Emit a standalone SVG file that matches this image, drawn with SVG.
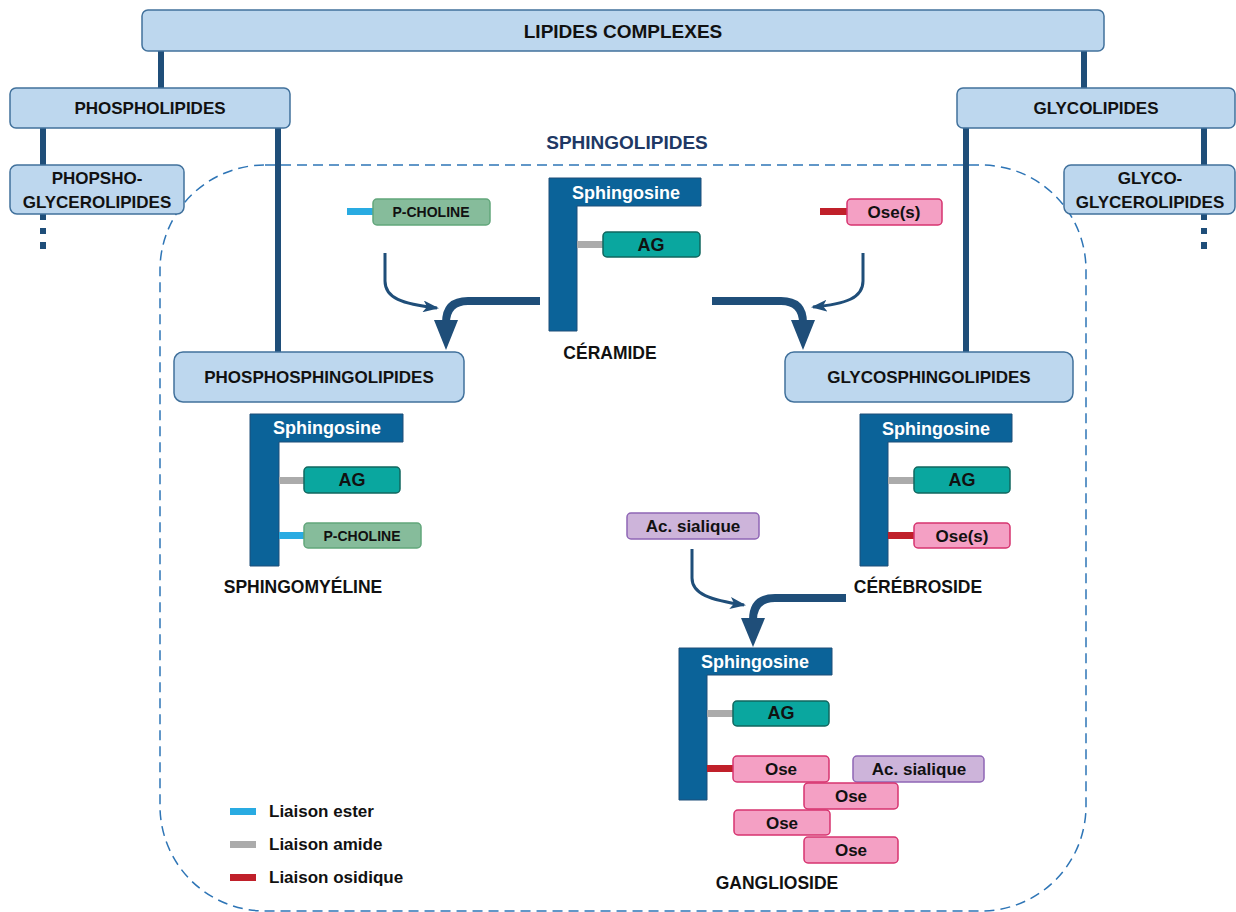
<svg xmlns="http://www.w3.org/2000/svg" width="1236" height="912" viewBox="0 0 1236 912">
<defs>
<style>
text{font-family:"Liberation Sans",Arial,sans-serif;font-weight:bold;text-anchor:middle;dominant-baseline:central;fill:#111}
.hdr{fill:#BDD7EE;stroke:#41719C;stroke-width:1.5}
.bar{stroke:#1F4E79;stroke-width:6;fill:none}
.sph{fill:#0B6399;stroke:#1F4E79;stroke-width:1}
.sphT{fill:#fff;font-size:18px}
.ag{fill:#0AA79F;stroke:#11675F;stroke-width:1.5}
.pc{fill:#86BC9B;stroke:#62A67B;stroke-width:1.5}
.ose{fill:#F4A0C4;stroke:#D6336F;stroke-width:1.5}
.ac{fill:#CDB4DA;stroke:#8E65B5;stroke-width:1.5}
.ester{fill:#29ABE2}
.amide{fill:#ABABAB}
.osid{fill:#C0202A}
.thin{stroke:#1F4E79;stroke-width:3;fill:none}
.thick{stroke:#1F4E79;stroke-width:8;fill:none}
.head{fill:#1F4E79}
.h17{font-size:17px}
.lbl{font-size:17.5px}
</style>
<marker id="ah" markerUnits="userSpaceOnUse" viewBox="0 0 16 12" refX="14" refY="6" markerWidth="16" markerHeight="12" orient="auto">
<path d="M0,0 L16,6 L0,12 L4,6 z" fill="#1F4E79"/>
</marker>
</defs>
<rect width="1236" height="912" fill="#fff"/>

<g id="sphingolipides">
<rect x="160" y="165" width="926" height="746" rx="105" fill="none" stroke="#2E75B6" stroke-width="1.5" stroke-dasharray="10,6"/>
<text x="627" y="142" style="font-size:19px;fill:#203864">SPHINGOLIPIDES</text>
</g>

<g id="connectors">
<path class="bar" d="M161,51 V88 M1084,51 V88 M43,128 V165 M278,128 V352 M966,128 V352 M1204,128 V165"/>
<path class="bar" d="M43,214 V220 M43,228 V234 M43,242 V249 M1204,214 V220 M1204,228 V234 M1204,242 V249"/>
<path class="thin" marker-end="url(#ah)" d="M385,253 V281 C385,298 402,304 437,308"/>
<path class="thin" marker-end="url(#ah)" d="M863,253 V281 C863,298 846,304 813,307"/>
<path class="thin" marker-end="url(#ah)" d="M692,549 V578 C692,594 710,600 744,605"/>
<path class="thick" d="M540,301 H468 Q446,301 446,323"/>
<polygon class="head" points="434,320 458,320 446,350"/>
<path class="thick" d="M712,301 H781 Q803,301 803,323"/>
<polygon class="head" points="791,320 815,320 803,350"/>
<path class="thick" d="M846,598 H775 Q753,598 753,620"/>
<polygon class="head" points="741,618 765,618 753,647"/>
</g>

<g id="lipides-complexes">
<rect class="hdr" x="142" y="10" width="962" height="41" rx="6"/>
<text x="623" y="31" style="font-size:19px">LIPIDES COMPLEXES</text>
</g>
<g id="phospholipides">
<rect class="hdr" x="10" y="88" width="280" height="40" rx="6"/>
<text class="h17" x="150" y="108">PHOSPHOLIPIDES</text>
</g>
<g id="glycolipides">
<rect class="hdr" x="957" y="88" width="278" height="40" rx="6"/>
<text class="h17" x="1096" y="108">GLYCOLIPIDES</text>
</g>
<g id="phosphoglycerolipides">
<rect class="hdr" x="10" y="165" width="174" height="49" rx="7"/>
<text class="h17" x="97" y="178">PHOPSHO-</text>
<text class="h17" x="97" y="202">GLYCEROLIPIDES</text>
</g>
<g id="glycoglycerolipides">
<rect class="hdr" x="1064" y="165" width="171" height="49" rx="7"/>
<text class="h17" x="1150" y="178">GLYCO-</text>
<text class="h17" x="1150" y="202">GLYCEROLIPIDES</text>
</g>
<g id="phosphosphingolipides">
<rect class="hdr" x="174" y="352" width="290" height="50" rx="9"/>
<text class="h17" x="319" y="377">PHOSPHOSPHINGOLIPIDES</text>
</g>
<g id="glycosphingolipides">
<rect class="hdr" x="785" y="352" width="288" height="50" rx="9"/>
<text class="h17" x="929" y="377">GLYCOSPHINGOLIPIDES</text>
</g>

<g id="p-choline-free">
<rect class="ester" x="347" y="208" width="26" height="7"/>
<rect class="pc" x="373" y="199" width="117" height="26" rx="4"/>
<text x="431" y="212" style="font-size:14px">P-CHOLINE</text>
</g>
<g id="oses-free">
<rect class="osid" x="820" y="208" width="27" height="7"/>
<rect class="ose" x="847" y="199" width="95" height="26" rx="4"/>
<text x="894" y="212" style="font-size:17px">Ose(s)</text>
</g>

<g id="ceramide">
<path class="sph" d="M549,178 H701 V206 H577 V331 H549 Z"/>
<text class="sphT" x="626" y="193">Sphingosine</text>
<rect class="amide" x="577" y="241" width="26" height="7"/>
<rect class="ag" x="603" y="232" width="97" height="25" rx="4"/>
<text x="651" y="245" style="font-size:18px">AG</text>
<text class="lbl" x="610" y="353">CÉRAMIDE</text>
</g>

<g id="sphingomyeline">
<path class="sph" d="M250,414 H403 V442 H279 V566 H250 Z"/>
<text class="sphT" x="327" y="428">Sphingosine</text>
<rect class="amide" x="279" y="477" width="25" height="7"/>
<rect class="ag" x="304" y="467" width="96" height="26" rx="4"/>
<text x="352" y="480" style="font-size:18px">AG</text>
<rect class="ester" x="279" y="532" width="25" height="7"/>
<rect class="pc" x="304" y="523" width="117" height="25" rx="4"/>
<text x="362" y="536" style="font-size:14px">P-CHOLINE</text>
<text class="lbl" x="303" y="587">SPHINGOMYÉLINE</text>
</g>

<g id="cerebroside">
<path class="sph" d="M860,414 H1012 V442 H888 V566 H860 Z"/>
<text class="sphT" x="936" y="429">Sphingosine</text>
<rect class="amide" x="888" y="477" width="26" height="7"/>
<rect class="ag" x="914" y="467" width="96" height="26" rx="4"/>
<text x="962" y="480" style="font-size:18px">AG</text>
<rect class="osid" x="888" y="532" width="26" height="7"/>
<rect class="ose" x="914" y="523" width="96" height="25" rx="4"/>
<text x="962" y="536" style="font-size:17px">Ose(s)</text>
<text class="lbl" x="918" y="587">CÉRÉBROSIDE</text>
</g>

<g id="ac-sialique-free">
<rect class="ac" x="627" y="513" width="132" height="26" rx="4"/>
<text x="693" y="526" style="font-size:17px">Ac. sialique</text>
</g>

<g id="ganglioside">
<path class="sph" d="M679,648 H832 V675 H707 V800 H679 Z"/>
<text class="sphT" x="755" y="662">Sphingosine</text>
<rect class="amide" x="707" y="710" width="26" height="7"/>
<rect class="ag" x="733" y="701" width="96" height="25" rx="4"/>
<text x="781" y="713" style="font-size:18px">AG</text>
<rect class="osid" x="707" y="765" width="26" height="7"/>
<rect class="ose" x="733" y="756" width="96" height="26" rx="4"/>
<text x="781" y="769" style="font-size:17px">Ose</text>
<rect class="ac" x="853" y="756" width="131" height="26" rx="4"/>
<text x="919" y="769" style="font-size:17px">Ac. sialique</text>
<rect class="ose" x="804" y="783" width="94" height="26" rx="4"/>
<text x="851" y="796" style="font-size:17px">Ose</text>
<rect class="ose" x="734" y="810" width="96" height="25" rx="4"/>
<text x="782" y="823" style="font-size:17px">Ose</text>
<rect class="ose" x="804" y="837" width="94" height="26" rx="4"/>
<text x="851" y="850" style="font-size:17px">Ose</text>
<text class="lbl" x="777" y="883">GANGLIOSIDE</text>
</g>

<g id="legend">
<rect class="ester" x="230" y="808" width="26" height="7"/>
<text x="269" y="811" style="font-size:17px;text-anchor:start">Liaison ester</text>
<rect class="amide" x="230" y="841" width="26" height="7"/>
<text x="269" y="844" style="font-size:17px;text-anchor:start">Liaison amide</text>
<rect class="osid" x="230" y="874" width="26" height="7"/>
<text x="269" y="877" style="font-size:17px;text-anchor:start">Liaison osidique</text>
</g>
</svg>
